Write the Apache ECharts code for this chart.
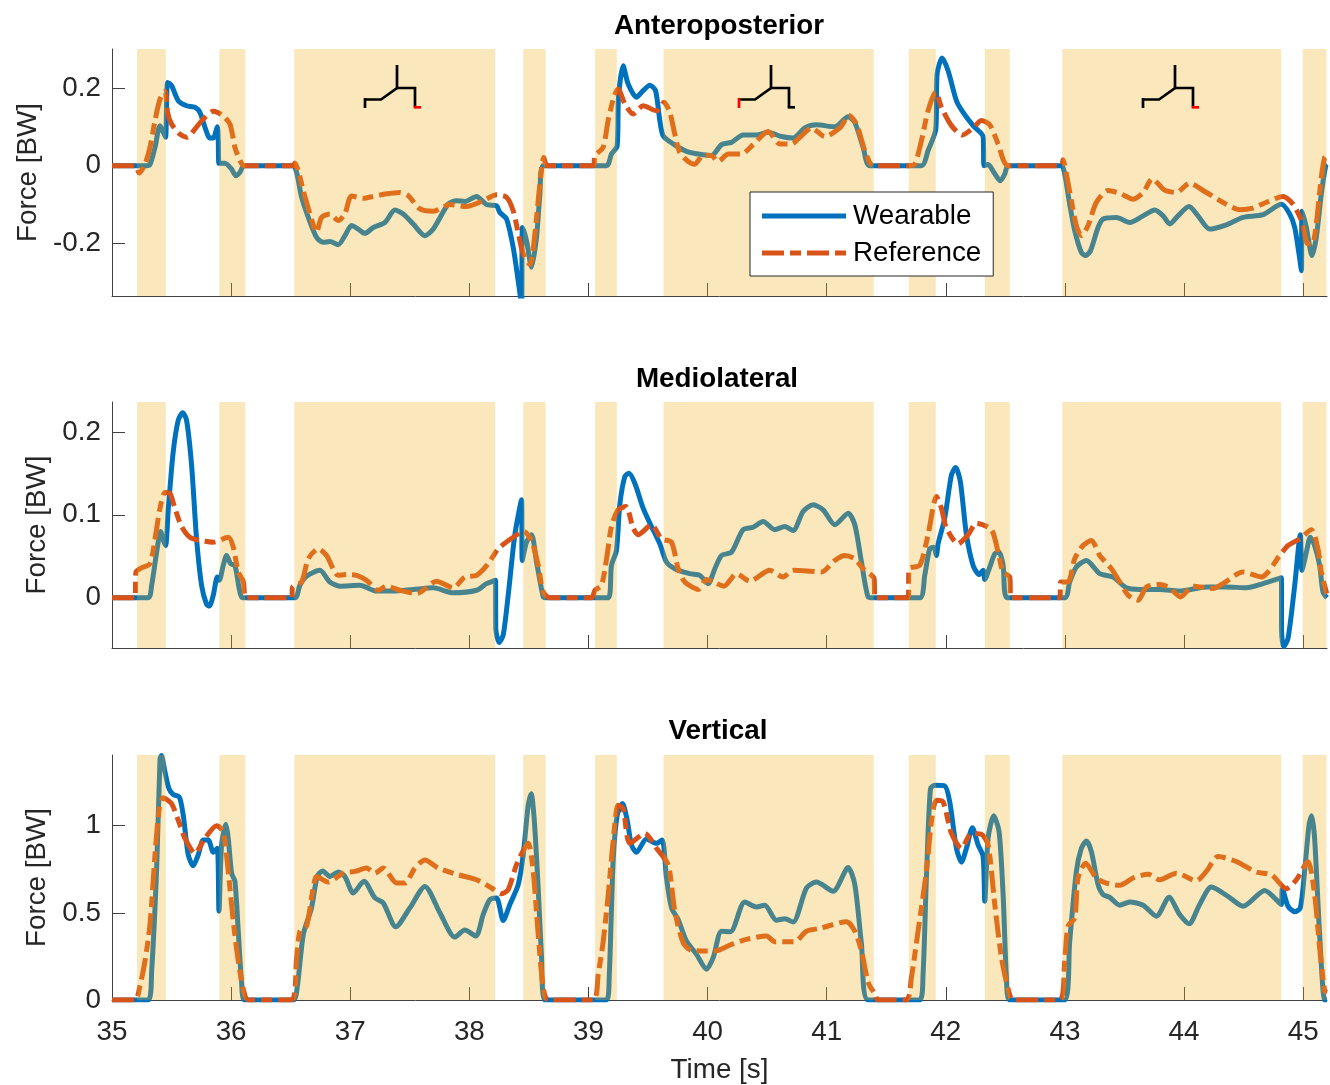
<!DOCTYPE html>
<html><head><meta charset="utf-8">
<style>html,body{margin:0;padding:0;background:#fff}#c{width:1330px;height:1085px}</style>
<script src="https://cdn.jsdelivr.net/npm/echarts@6/dist/echarts.min.js"></script>
</head><body><div id="c"></div>
<script>
const titles = ['Anteroposterior', 'Mediolateral', 'Vertical'];
const xTicks = [35,36,37,38,39,40,41,42,43,44,45];
const apTicks = [-0.2,0,0.2];
const mlTicks = [0,0.1,0.2];
const vTicks = [0,0.5,1];
// stance intervals [start, end] in seconds
const stance = [[35.210,35.451],[35.901,36.119],[36.530,38.217],[38.452,38.640],[39.056,39.238],[39.630,41.395],[41.689,41.916],[42.327,42.537],[42.978,44.815],[44.996,45.195]];

const apWearable = [[35,0],[35.291,0],[35.319,.003],[35.361,.047],[35.403,.103],[35.431,.086],[35.450,.073],[35.467,.214],[35.500,.206],[35.556,.167],[35.626,.154],[35.696,.150],[35.738,.137],[35.780,.099],[35.822,.071],[35.850,.071],[35.884,.100],[35.892,.064],[35.898,.006],[35.948,.006],[36.004,-.009],[36.040,-.026],[36.074,-.017],[36.108,0],[36.522,0],[36.550,-.017],[36.592,-.081],[36.648,-.133],[36.717,-.184],[36.773,-.197],[36.829,-.195],[36.899,-.203],[36.955,-.180],[37.011,-.154],[37.067,-.163],[37.123,-.174],[37.193,-.159],[37.291,-.146],[37.375,-.114],[37.445,-.124],[37.529,-.150],[37.627,-.180],[37.697,-.163],[37.822,-.099],[37.892,-.090],[37.962,-.092],[38.060,-.079],[38.144,-.100],[38.228,-.103],[38.256,-.120],[38.312,-.137],[38.368,-.210],[38.410,-.296],[38.438,-.356],[38.446,-.159],[38.480,-.193],[38.522,-.261],[38.564,-.184],[38.592,-.073],[38.620,0],[39.151,0],[39.193,.030],[39.241,.051],[39.252,.175],[39.291,.257],[39.333,.210],[39.403,.176],[39.459,.193],[39.515,.207],[39.563,.193],[39.599,.116],[39.627,.077],[39.711,.056],[39.823,.037],[39.963,.028],[40.033,.026],[40.117,.054],[40.201,.060],[40.298,.079],[40.411,.079],[40.508,.086],[40.620,.075],[40.718,.071],[40.816,.097],[40.914,.105],[41.068,.100],[41.180,.126],[41.236,.111],[41.306,.047],[41.362,0],[41.795,0],[41.851,.039],[41.916,.094],[41.927,.236],[41.969,.277],[42.019,.244],[42.089,.167],[42.145,.137],[42.229,.103],[42.313,.075],[42.321,0],[42.355,.003],[42.411,-.021],[42.458,-.039],[42.495,-.021],[42.523,0],[42.970,0],[42.998,-.021],[43.040,-.099],[43.082,-.167],[43.138,-.223],[43.174,-.231],[43.214,-.219],[43.278,-.159],[43.320,-.137],[43.432,-.133],[43.544,-.146],[43.656,-.129],[43.754,-.114],[43.824,-.129],[43.880,-.150],[43.949,-.129],[44.042,-.105],[44.117,-.129],[44.215,-.163],[44.355,-.152],[44.495,-.133],[44.663,-.126],[44.817,-.099],[44.887,-.124],[44.929,-.159],[44.965,-.227],[44.985,-.270],[44.990,-.117],[45.027,-.159],[45.074,-.231],[45.110,-.184],[45.152,-.073],[45.189,0],[45.2,.004]];
const apReference = [[35,0],[35.193,0],[35.229,-.019],[35.277,.004],[35.319,.047],[35.361,.116],[35.403,.171],[35.445,.191],[35.467,.137],[35.500,.107],[35.570,.081],[35.632,.073],[35.696,.094],[35.766,.120],[35.850,.140],[35.920,.131],[35.990,.107],[36.032,.047],[36.074,.013],[36.108,0],[36.522,0],[36.535,.007],[36.564,-.013],[36.606,-.064],[36.662,-.124],[36.717,-.171],[36.759,-.133],[36.829,-.124],[36.899,-.141],[36.955,-.124],[37.011,-.078],[37.109,-.084],[37.193,-.079],[37.291,-.073],[37.417,-.069],[37.487,-.077],[37.585,-.111],[37.697,-.117],[37.837,-.100],[37.976,-.105],[38.116,-.090],[38.228,-.075],[38.312,-.081],[38.368,-.116],[38.418,-.184],[38.452,-.227],[38.508,-.254],[38.550,-.176],[38.592,-.047],[38.625,.021],[38.654,0],[39.040,0],[39.054,.026],[39.123,.047],[39.165,.116],[39.213,.176],[39.249,.197],[39.305,.159],[39.375,.133],[39.459,.154],[39.571,.141],[39.633,.163],[39.683,.137],[39.725,.081],[39.767,.034],[39.837,.011],[39.893,.004],[39.963,.027],[40.033,.026],[40.089,.011],[40.173,.030],[40.284,.030],[40.382,.054],[40.508,.088],[40.606,.056],[40.704,.056],[40.788,.077],[40.872,.097],[40.984,.075],[41.110,.097],[41.188,.129],[41.250,.107],[41.320,.039],[41.390,0],[41.683,0],[41.739,.004],[41.795,.064],[41.851,.141],[41.916,.189],[41.963,.150],[42.047,.103],[42.139,.079],[42.229,.097],[42.299,.116],[42.369,.105],[42.439,.056],[42.523,0],[42.970,0],[42.984,.015],[43.012,-.021],[43.054,-.090],[43.096,-.154],[43.138,-.180],[43.194,-.154],[43.264,-.094],[43.362,-.064],[43.460,-.071],[43.572,-.086],[43.656,-.069],[43.734,-.034],[43.837,-.063],[43.935,-.069],[44.047,-.045],[44.187,-.069],[44.355,-.099],[44.467,-.113],[44.579,-.109],[44.691,-.094],[44.831,-.079],[44.915,-.099],[44.985,-.141],[45.040,-.201],[45.077,-.201],[45.110,-.150],[45.152,-.030],[45.180,.021],[45.2,.026]];

const mlWearable = [[35,0],[35.305,0],[35.333,.015],[35.375,.055],[35.408,.080],[35.431,.069],[35.450,.063],[35.473,.108],[35.514,.176],[35.556,.214],[35.593,.223],[35.626,.214],[35.668,.160],[35.710,.071],[35.752,.015],[35.794,-.008],[35.817,-.010],[35.850,.003],[35.884,.025],[35.901,.021],[35.934,.039],[35.962,.051],[35.996,.041],[36.032,.039],[36.068,.011],[36.096,0],[36.536,0],[36.577,.015],[36.633,.026],[36.745,.033],[36.829,.019],[36.913,.014],[37.081,.015],[37.221,.008],[37.361,.008],[37.529,.010],[37.697,.012],[37.864,.006],[38.060,.009],[38.144,.017],[38.220,.021],[38.222,-.037],[38.250,-.054],[38.284,-.045],[38.326,.003],[38.382,.076],[38.438,.118],[38.444,.045],[38.480,.067],[38.522,.076],[38.564,.043],[38.620,.001],[38.642,0],[39.166,0],[39.193,.039],[39.235,.057],[39.263,.112],[39.305,.146],[39.339,.150],[39.389,.138],[39.459,.108],[39.515,.090],[39.599,.065],[39.655,.043],[39.725,.035],[39.851,.029],[39.935,.027],[40.005,.017],[40.061,.035],[40.117,.051],[40.201,.055],[40.298,.082],[40.382,.085],[40.466,.092],[40.564,.082],[40.648,.086],[40.718,.081],[40.802,.104],[40.886,.112],[40.970,.106],[41.068,.088],[41.180,.102],[41.236,.088],[41.292,.043],[41.348,.001],[41.390,0],[41.781,0],[41.823,.027],[41.865,.059],[41.899,.061],[41.921,.051],[41.935,.065],[41.991,.096],[42.047,.148],[42.083,.157],[42.122,.140],[42.173,.076],[42.229,.039],[42.279,.028],[42.313,.033],[42.327,.022],[42.369,.037],[42.411,.053],[42.447,.055],[42.481,.039],[42.514,0],[42.998,0],[43.040,.019],[43.096,.037],[43.180,.045],[43.292,.029],[43.404,.025],[43.516,.012],[43.628,.010],[43.796,.010],[43.963,.008],[44.187,.013],[44.355,.013],[44.523,.012],[44.663,.017],[44.817,.024],[44.819,-.041],[44.837,-.059],[44.873,-.049],[44.929,.015],[44.976,.076],[44.990,.033],[45.027,.055],[45.060,.073],[45.096,.063],[45.138,.039],[45.166,.007],[45.2,0]];
const mlReference = [[35,0],[35.193,0],[35.201,.031],[35.249,.036],[35.319,.041],[35.361,.071],[35.403,.108],[35.445,.127],[35.486,.126],[35.528,.108],[35.584,.086],[35.654,.073],[35.738,.069],[35.850,.067],[35.976,.073],[36.018,.061],[36.060,.031],[36.102,.020],[36.130,0],[36.508,0],[36.516,.013],[36.592,.019],[36.648,.047],[36.731,.059],[36.801,.051],[36.899,.027],[36.969,.028],[37.053,.027],[37.137,.021],[37.235,.009],[37.305,.014],[37.417,.009],[37.557,.005],[37.724,.020],[37.864,.012],[37.962,.025],[38.060,.027],[38.158,.041],[38.242,.059],[38.368,.073],[38.457,.080],[38.522,.069],[38.578,.039],[38.620,.007],[38.676,0],[39.026,0],[39.054,.009],[39.109,.015],[39.152,.047],[39.193,.086],[39.249,.106],[39.314,.110],[39.375,.084],[39.417,.076],[39.529,.088],[39.613,.071],[39.697,.067],[39.753,.035],[39.809,.019],[39.921,.010],[39.991,.022],[40.061,.018],[40.136,.014],[40.243,.029],[40.354,.020],[40.522,.033],[40.634,.025],[40.718,.033],[40.858,.032],[40.956,.031],[41.068,.045],[41.152,.051],[41.236,.047],[41.306,.035],[41.398,.023],[41.404,0],[41.683,0],[41.692,.035],[41.781,.039],[41.851,.076],[41.921,.122],[41.963,.108],[42.005,.084],[42.103,.065],[42.187,.076],[42.257,.090],[42.383,.082],[42.439,.055],[42.481,.031],[42.537,.025],[42.545,0],[42.956,0],[42.965,.019],[43.026,.019],[43.082,.047],[43.152,.063],[43.222,.069],[43.292,.051],[43.390,.035],[43.460,.019],[43.530,.003],[43.614,-.003],[43.684,.013],[43.796,.016],[43.879,.012],[43.969,.001],[44.075,.014],[44.243,.011],[44.327,.017],[44.495,.031],[44.649,.025],[44.803,.051],[44.873,.063],[44.971,.071],[45.068,.082],[45.124,.059],[45.152,.031],[45.194,.007],[45.2,.005]];

const vWearable = [[35,0],[35.305,0],[35.333,.167],[35.375,.757],[35.403,1.384],[35.414,1.403],[35.445,1.308],[35.478,1.213],[35.514,1.179],[35.565,1.165],[35.598,1.061],[35.640,.833],[35.682,.770],[35.724,.833],[35.766,.918],[35.808,.918],[35.850,.848],[35.884,.871],[35.898,.510],[35.920,.890],[35.956,1.008],[35.976,.928],[36.004,.728],[36.032,.681],[36.060,.395],[36.088,.101],[36.116,0],[36.522,0],[36.555,.072],[36.606,.376],[36.675,.529],[36.723,.709],[36.768,.741],[36.829,.709],[36.899,.734],[36.955,.709],[37.025,.614],[37.115,.681],[37.207,.586],[37.277,.557],[37.383,.420],[37.501,.529],[37.627,.652],[37.753,.500],[37.878,.361],[37.962,.401],[38.055,.367],[38.116,.490],[38.172,.576],[38.228,.586],[38.284,.456],[38.340,.548],[38.410,.662],[38.452,.833],[38.494,1.118],[38.519,1.184],[38.544,1.042],[38.578,.643],[38.606,.243],[38.634,0],[39.152,0],[39.174,.129],[39.207,.795],[39.241,1.061],[39.286,1.127],[39.325,1.032],[39.361,.890],[39.403,.848],[39.487,.924],[39.571,.899],[39.619,.918],[39.655,.700],[39.697,.529],[39.753,.462],[39.823,.338],[39.907,.262],[39.991,.177],[40.047,.243],[40.117,.395],[40.192,.392],[40.312,.563],[40.410,.534],[40.480,.544],[40.578,.458],[40.648,.466],[40.718,.447],[40.830,.643],[40.914,.677],[41.054,.624],[41.180,.760],[41.236,.662],[41.292,.319],[41.348,0],[41.781,0],[41.809,.148],[41.837,.700],[41.871,1.213],[41.907,1.232],[41.991,1.228],[42.033,1.137],[42.089,.871],[42.131,.791],[42.173,.871],[42.223,.989],[42.271,.890],[42.313,.823],[42.327,.567],[42.355,.928],[42.402,1.057],[42.447,.966],[42.481,.605],[42.509,.129],[42.537,0],[42.998,0],[43.040,.338],[43.096,.738],[43.138,.871],[43.180,.913],[43.222,.852],[43.278,.662],[43.320,.605],[43.376,.589],[43.460,.544],[43.544,.563],[43.656,.544],[43.768,.481],[43.874,.589],[43.963,.490],[44.042,.437],[44.131,.548],[44.229,.648],[44.369,.595],[44.495,.538],[44.677,.629],[44.817,.548],[44.825,.639],[44.873,.538],[44.929,.506],[44.976,.529],[45.012,.738],[45.049,1.004],[45.071,1.057],[45.096,.928],[45.138,.376],[45.180,0],[45.2,0]];
const vReference = [[35,0],[35.193,0],[35.235,.082],[35.277,.224],[35.319,.433],[35.361,.833],[35.397,1.099],[35.431,1.160],[35.500,1.127],[35.556,1.032],[35.612,.928],[35.696,.842],[35.780,.928],[35.878,1.000],[35.934,.966],[35.976,.738],[36.018,.452],[36.060,.224],[36.102,.063],[36.144,0],[36.508,0],[36.550,.243],[36.578,.395],[36.633,.424],[36.689,.643],[36.717,.709],[36.815,.677],[36.941,.728],[37.039,.738],[37.137,.757],[37.207,.728],[37.277,.757],[37.389,.671],[37.459,.671],[37.543,.757],[37.627,.804],[37.739,.757],[37.906,.719],[38.060,.690],[38.186,.643],[38.270,.610],[38.326,.633],[38.396,.776],[38.494,.899],[38.536,.738],[38.578,.376],[38.620,.072],[38.662,0],[39.040,0],[39.082,.148],[39.124,.338],[39.166,.605],[39.207,.909],[39.249,1.118],[39.291,1.099],[39.347,.899],[39.473,.956],[39.571,.871],[39.669,.776],[39.725,.510],[39.795,.329],[39.865,.285],[40.061,.281],[40.201,.319],[40.326,.348],[40.494,.367],[40.564,.335],[40.732,.335],[40.830,.395],[40.942,.411],[41.166,.449],[41.236,.395],[41.292,.281],[41.348,.101],[41.404,.034],[41.432,0],[41.669,0],[41.711,.129],[41.767,.395],[41.837,.738],[41.879,1.023],[41.921,1.146],[41.977,1.137],[42.047,.956],[42.131,.871],[42.215,.956],[42.299,.951],[42.355,.890],[42.411,.548],[42.467,.243],[42.523,.063],[42.565,0],[42.956,0],[42.998,.224],[43.026,.424],[43.082,.471],[43.110,.700],[43.174,.785],[43.264,.700],[43.348,.671],[43.460,.658],[43.572,.700],[43.698,.722],[43.796,.690],[43.935,.728],[44.103,.684],[44.187,.738],[44.285,.823],[44.439,.795],[44.607,.734],[44.733,.719],[44.859,.639],[44.943,.690],[45.040,.795],[45.096,.605],[45.138,.300],[45.180,.053],[45.2,.044]];

const FONT = '"Liberation Sans", Arial, sans-serif';
const TXT = '#262626';
const FS = 27.8;
const panels = [
  {top:49, height:247, min:-0.335, max:0.3, ticks:apTicks, w:apWearable, r:apReference, gap:65},
  {top:402, height:246, min:-0.0606, max:0.236, ticks:mlTicks, w:mlWearable, r:mlReference, gap:60},
  {top:755, height:246, min:0, max:1.406, ticks:vTicks, w:vWearable, r:vReference, gap:60}
];
const titleY = [12, 365, 717];
const titleX = [719, 717, 718];

const grid = panels.map(p => ({left:112, width:1215, top:p.top, height:p.height, containLabel:false}));
const xAxis = panels.map((p,i) => ({
  type:'value', gridIndex:i, min:35, max:45.2,
  axisLine:{onZero:false, show:true, lineStyle:{color:'#404040', width:1}},
  axisTick:{show:true, inside:true, length:13, customValues:xTicks, lineStyle:{color:'#404040', width:1}},
  axisLabel:{show:i===2, customValues:xTicks, margin:18, fontFamily:FONT, fontSize:FS, color:TXT, formatter:v=>String(v)},
  splitLine:{show:false},
  name:i===2?'Time [s]':'', nameLocation:'middle', nameGap:56,
  nameTextStyle:{fontFamily:FONT, fontSize:FS, color:TXT}
}));
const yAxis = panels.map((p,i) => ({
  type:'value', gridIndex:i, min:p.min, max:p.max,
  axisLine:{onZero:false, show:true, lineStyle:{color:'#404040', width:1}},
  axisTick:{show:true, inside:true, length:13, customValues:p.ticks, lineStyle:{color:'#404040', width:1}},
  axisLabel:{customValues:p.ticks, margin:11, padding:[5,0,0,0], fontFamily:FONT, fontSize:FS, color:TXT, formatter:v=>String(v)},
  splitLine:{show:false},
  name:'Force [BW]', nameLocation:'middle', nameGap:p.gap, nameRotate:90,
  nameTextStyle:{fontFamily:FONT, fontSize:FS, color:TXT}
}));
const series = [];
panels.forEach((p,i) => {
  series.push({name:'Wearable', type:'line', xAxisIndex:i, yAxisIndex:i, data:p.w, showSymbol:false, symbol:'none', smooth:0.25, z:2,
    lineStyle:{color:'#0072BD', width:5, join:'round'}, itemStyle:{color:'#0072BD'}});
  series.push({name:'Reference', type:'line', xAxisIndex:i, yAxisIndex:i, data:p.r, showSymbol:false, symbol:'none', smooth:0.25, z:3,
    lineStyle:{color:'#D95319', width:5, type:[22,6,11,6], join:'round'}, itemStyle:{color:'#D95319'},
    markArea:{silent:true, z:10, itemStyle:{color:'#EDB120', opacity:0.3, borderWidth:0},
      data:stance.map(s=>[{xAxis:s[0]},{xAxis:s[1]}])}});
});
// gait stick-figure icons
function icon(dx, redLeft){
  const col = (c)=>({stroke:c, lineWidth:2.7, fill:null, lineJoin:'miter'});
  return [
    {type:'polyline', z:60, x:dx, y:0, shape:{points:[[0,99.5],[16,99.5],[32,88],[32,65]]}, style:col('#000')},
    {type:'polyline', z:60, x:dx, y:0, shape:{points:[[32,88],[50,88],[50,107.3]]}, style:col('#000')},
    {type:'line', z:redLeft?61:60, x:dx, y:0, shape:{x1:0,y1:98,x2:0,y2:108}, style:col(redLeft?'#f00':'#000')},
    {type:'line', z:redLeft?60:61, x:dx, y:0, shape:{x1:48.7,y1:107.3,x2:56,y2:107.3}, style:col(redLeft?'#000':'#f00')}
  ];
}
const graphic = {elements:[...icon(365,false), ...icon(739,true), ...icon(1143,false)]};

const dashIcon = 'path://M0 0H22V5H0Z M28 0H39V5H28Z M45 0H67V5H45Z M73 0H84V5H73Z';
const chart = echarts.init(document.getElementById('c'), null, {renderer:'canvas', width:1330, height:1085});
chart.setOption({
  animation:false, backgroundColor:'#fff',
  title: titles.map((t,i)=>({text:t, left:titleX[i], top:titleY[i], textAlign:'center', padding:0,
    textStyle:{fontFamily:FONT, fontSize:FS, fontWeight:'bold', color:'#000'}})),
  legend:{show:true, left:750, top:192, orient:'vertical', padding:[10,12,9,12], itemGap:9, itemWidth:84, itemHeight:5,
    data:[{name:'Wearable', icon:'rect'},{name:'Reference', icon:dashIcon}], backgroundColor:'#fff', borderColor:'#262626', borderWidth:1, borderRadius:0, z:50,
    textStyle:{fontFamily:FONT, fontSize:FS, color:'#000', padding:[0,0,0,2]}, selectedMode:false},
  grid, xAxis, yAxis, series, graphic
});
</script></body></html>
